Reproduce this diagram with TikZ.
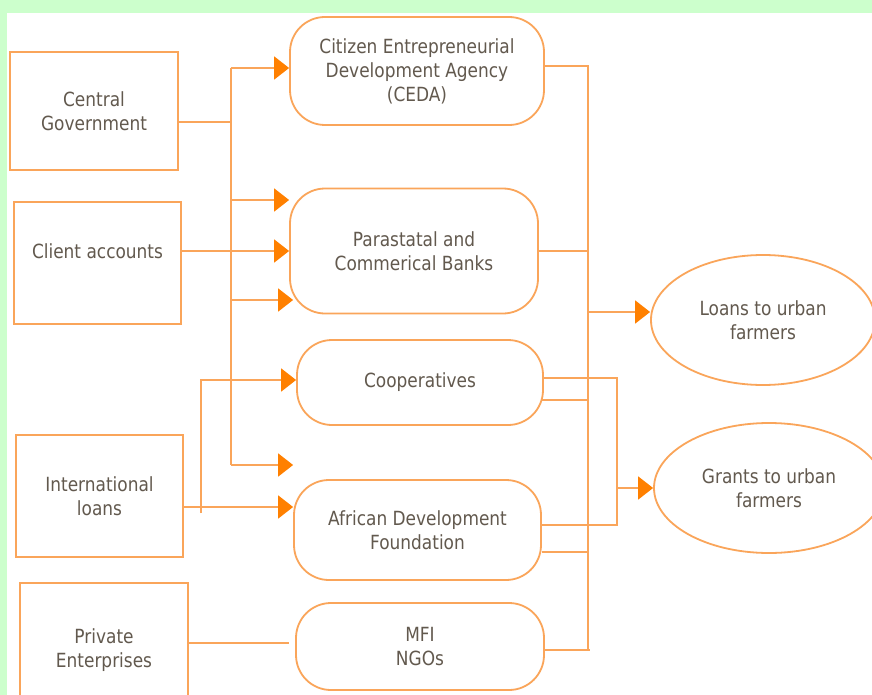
\documentclass[tikz,border=0pt]{standalone}
\usepackage{fontspec}
\setmainfont{DejaVu Sans}[FakeStretch=0.87]
\usepackage{tikz}
\usetikzlibrary{arrows.meta,shapes.geometric}
\definecolor{bggreen}{RGB}{204,255,204}
\definecolor{lineorange}{RGB}{250,165,90}
\definecolor{tiporange}{RGB}{255,128,0}
\definecolor{textgrey}{RGB}{98,89,78}

\begin{document}
\begin{tikzpicture}[x=1bp,y=-1bp,
		every node/.style={font=\fontsize{19.5bp}{24bp}\selectfont,text=textgrey,align=center,line width=1.8bp},
		srcbox/.style={draw=lineorange,rectangle,inner sep=0pt},
		agency/.style={draw=lineorange,rectangle,rounded corners=35bp,inner sep=0pt},
		target/.style={draw=lineorange,ellipse,inner sep=0pt},
		link/.style={draw=lineorange,line width=1.8bp},
		flow/.style={link,-{Triangle[length=15bp,width=23bp,color=tiporange]}}]
		\clip (0,0) rectangle (872,695);
		\fill[bggreen] (0,0) rectangle (872,695);
		\fill[white] (7,13) rectangle (872,695);
		\node[srcbox,minimum width=168bp,minimum height=118bp] (cg) at (94,111) {Central\\Government};
		\node[srcbox,minimum width=167bp,minimum height=122bp] (client) at (97.5,263) {Client accounts\\[0pt]~};
		\node[srcbox,minimum width=167bp,minimum height=122bp] (intl) at (99.5,496) {International\\loans};
		\node[srcbox,minimum width=168bp,minimum height=134bp] (priv) at (104,650) {Private\\Enterprises};
		\node[agency,minimum width=254bp,minimum height=108bp] (ceda) at (417,71) {Citizen Entrepreneurial\\Development Agency\\(CEDA)};
		\node[agency,minimum width=248bp,minimum height=125bp] (para) at (414,251) {Parastatal and\\Commerical Banks};
		\node[agency,minimum width=246bp,minimum height=85bp] (coop) at (420,382.5) {Cooperatives};
		\node[agency,minimum width=247bp,minimum height=100bp] (adf) at (417.5,530) {African Development\\Foundation};
		\node[agency,minimum width=248bp,minimum height=87bp] (mfi) at (420,646.5) {MFI\\NGOs};
		\node[target,minimum width=224bp,minimum height=130bp] (loans) at (763,320) {Loans to urban\\farmers};
		\node[target,minimum width=230bp,minimum height=130bp] (grants) at (769,488) {Grants to urban\\farmers};
		\coordinate (ltop) at (231,68);
		\coordinate (lbot) at (231,465);
		\coordinate (ljoin) at (231,122);
		\coordinate (lpa) at (231,200);
		\coordinate (lpb) at (231,300);
		\coordinate (ib) at (201,507);
		\coordinate (it) at (201,380);
		\coordinate (pj) at (289,643);
		\coordinate (rtop) at (588,66);
		\coordinate (rbot) at (588,650);
		\coordinate (lout) at (588,312);
		\coordinate (cb) at (588,400);
		\coordinate (ab) at (588,552);
		\coordinate (gtop) at (617,378);
		\coordinate (gbot) at (617,525);
		\draw[link] (ljoin -| cg.east) -- (ljoin);
		\draw[link] (ltop) -- (lbot);
		\draw[flow] (ltop) -- (ltop -| ceda.west);
		\draw[flow] (lpa) -- (lpa -| para.west);
		\draw[flow] (lpb) -- ([xshift=4bp]lpb -| para.west);
		\draw[flow] (lbot) -- (lbot -| adf.west);
		\draw[flow] (client.east |- para.west) -- (para.west);
		\draw[flow] (ib -| intl.east) -- (ib -| adf.west);
		\draw[flow] ([yshift=-6bp]ib) -- (it) -- (it -| coop.west);
		\draw[link] (priv.east |- pj) -- (pj);
		\draw[link] (rtop -| ceda.east) -- (rtop) -- (rbot);
		\draw[link] (para.east) -- (para.east -| rtop);
		\draw[flow] (lout) -- (lout -| loans.west);
		\draw[link] (gtop -| coop.east) -- (gtop) -- (gbot) -- (gbot -| adf.east);
		\draw[link] ([xshift=-2bp]cb -| coop.east) -- (cb);
		\draw[link] (ab -| adf.east) -- (ab);
		\draw[link] (rbot -| mfi.east) -- ([xshift=2bp]rbot);
		\draw[flow] (gtop |- grants.west) -- (grants.west);
	\end{tikzpicture}
\end{document}
